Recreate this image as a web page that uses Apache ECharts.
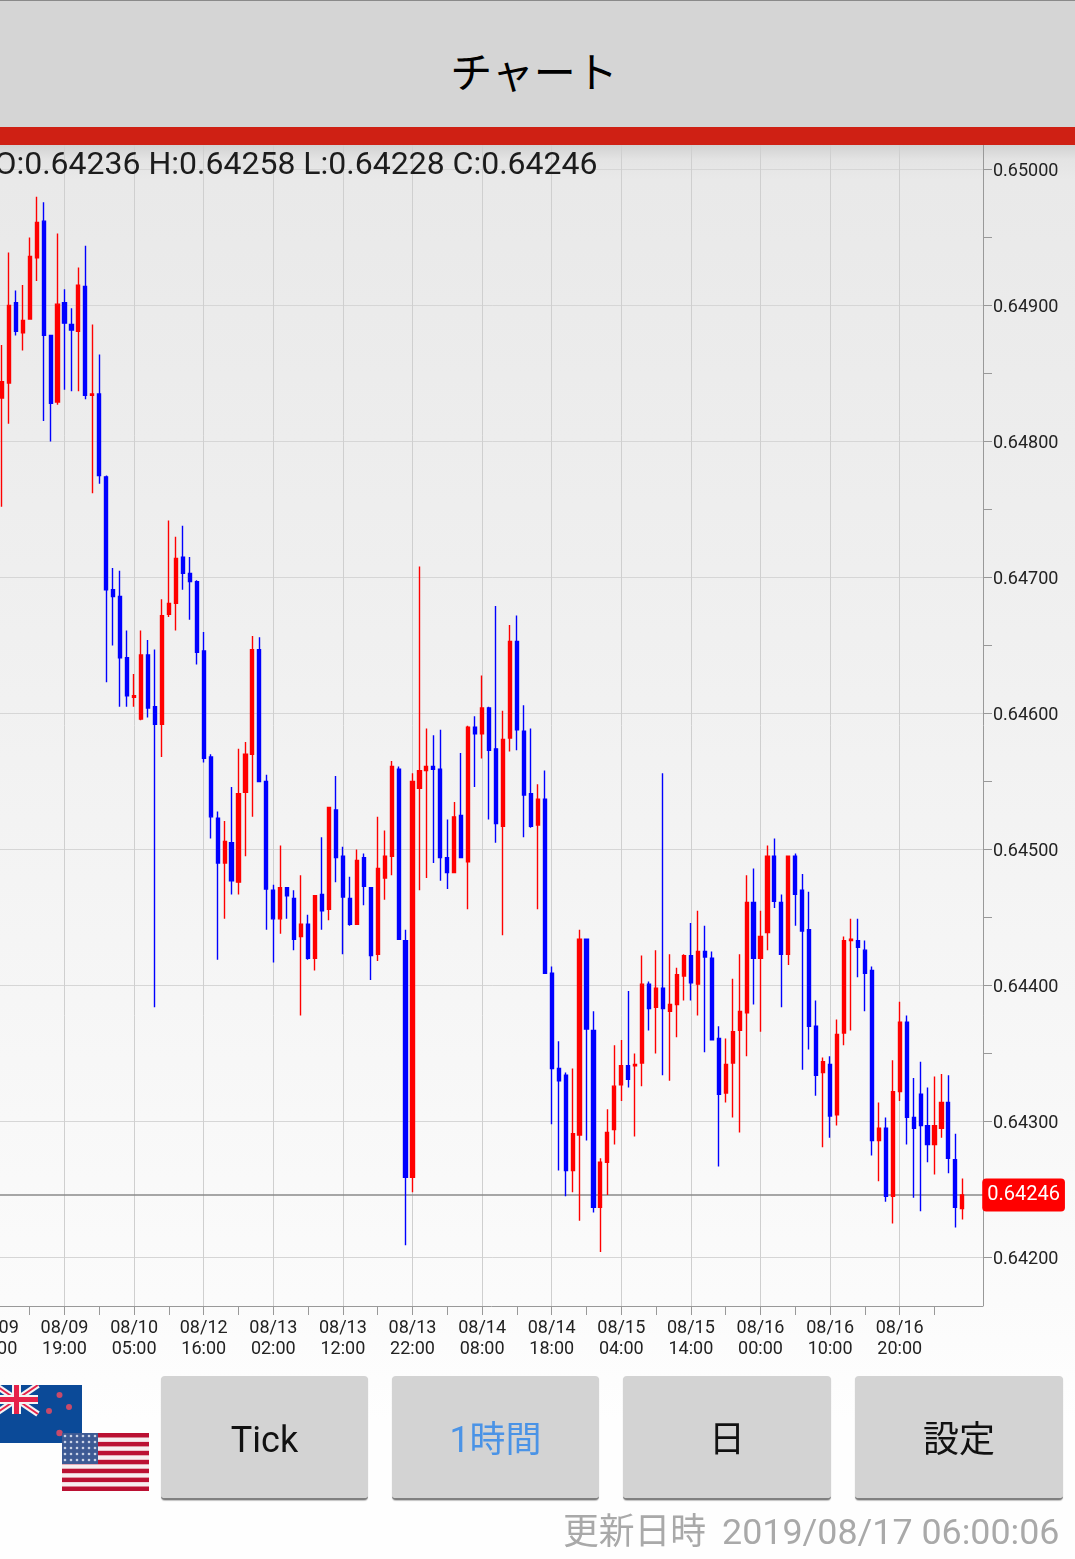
<!DOCTYPE html>
<html lang="ja">
<head>
<meta charset="utf-8">
<title>チャート</title>
<script src="https://cdn.jsdelivr.net/npm/echarts@6/dist/echarts.min.js"></script>
<style>
html, body { margin: 0; padding: 0; }
body {
  width: 1075px; height: 1559px; overflow: hidden; position: relative;
  font-family: Roboto, "Noto Sans CJK JP", sans-serif;
  background: linear-gradient(to bottom, #d2d2d2 0, #d2d2d2 145px, #e4e4e4 160px, #e9e9e9 180px, #f1f1f1 700px, #fbfbfb 1300px, #fefefe 1420px, #fefefe 100%);
}
#chart { position: absolute; left: 0; top: 0; width: 1075px; height: 1559px; }
.header {
  position: absolute; left: 0; top: 0; width: 1075px; height: 127px;
  background: #d5d5d5; border-top: 1px solid #8a8a8a; box-sizing: border-box;
  text-align: center; line-height: 146px; font-size: 42px; color: #000;
  padding-right: 7px;
}
.redbar { position: absolute; left: 0; top: 127px; width: 1075px; height: 18px; background: #cf2014; }
.btn {
  position: absolute; top: 1376px; height: 124px; box-sizing: border-box;
  background: #d3d3d3; border-radius: 4px; border-bottom: 2px solid #808080; box-shadow: 0 1px 1px #c4c4c4;
  text-align: center; line-height: 129px; font-size: 36px; color: #111;
}
.updated { position: absolute; right: 15.5px; top: 1510px; font-size: 35.8px; line-height: 44px; color: #a9a9a9; white-space: nowrap; }
.updated span { margin-left: 16px; }
svg.flag { position: absolute; }
</style>
</head>
<body>
<div id="chart"></div>
<div class="header">チャート</div>
<div class="redbar"></div>

<svg class="flag" style="left:-5px;top:1385px" width="87" height="58" viewBox="0 0 87 58">
  <rect width="87" height="58" fill="#0b4a98"/>
  <g stroke="#f4f4f4" stroke-width="6"><line x1="0" y1="0" x2="43" y2="29"/><line x1="43" y1="0" x2="0" y2="29"/></g>
  <g stroke="#e6224a" stroke-width="2"><line x1="0" y1="0" x2="43" y2="29"/><line x1="43" y1="0" x2="0" y2="29"/></g>
  <g stroke="#f4f4f4" stroke-width="9"><line x1="21.5" y1="0" x2="21.5" y2="29"/><line x1="0" y1="14.5" x2="43" y2="14.5"/></g>
  <g stroke="#e6224a" stroke-width="5"><line x1="21.5" y1="0" x2="21.5" y2="29"/><line x1="0" y1="14.5" x2="43" y2="14.5"/></g>
  <g fill="#c84a6a">
    <circle cx="64.5" cy="10" r="3"/><circle cx="74" cy="22" r="3"/><circle cx="54" cy="26" r="3"/><circle cx="64.5" cy="48" r="3.2"/>
  </g>
</svg>
<svg class="flag" style="left:62px;top:1433px" width="87" height="58" viewBox="0 0 87 58">
  <rect width="87" height="58" fill="#f7eef0"/>
  <g fill="#bb1133">
    <rect y="0" width="87" height="4.5"/><rect y="8.9" width="87" height="4.5"/><rect y="17.8" width="87" height="4.5"/>
    <rect y="26.8" width="87" height="4.5"/><rect y="35.7" width="87" height="4.5"/><rect y="44.6" width="87" height="4.5"/><rect y="53.5" width="87" height="4.5"/>
  </g>
  <rect width="36" height="31" fill="#3d5a94"/>
  <rect width="36" height="31" fill="url(#stars)"/>
  <defs><pattern id="stars" width="6" height="6" patternUnits="userSpaceOnUse"><circle cx="3" cy="3" r="1.3" fill="#c9d2e6"/></pattern></defs>
</svg>

<div class="btn" style="left:161px;width:207px">Tick</div>
<div class="btn" style="left:392px;width:207px;color:#4a93e6">1時間</div>
<div class="btn" style="left:623px;width:208px">日</div>
<div class="btn" style="left:855px;width:208px">設定</div>
<div class="updated">更新日時<span>2019/08/17 06:00:06</span></div>

<script>
// every tenth bar gets a label, the first one sits off the left edge
const tickLabels = [
  '08/09\n09:00', '08/09\n19:00', '08/10\n05:00', '08/12\n16:00', '08/13\n02:00',
  '08/13\n12:00', '08/13\n22:00', '08/14\n08:00', '08/14\n18:00', '08/15\n04:00',
  '08/15\n14:00', '08/16\n00:00', '08/16\n10:00', '08/16\n20:00'
]
const yTicks = [0.642, 0.643, 0.644, 0.645, 0.646, 0.647, 0.648, 0.649, 0.65]
const yStubs = [0.642, 0.6425, 0.643, 0.6435, 0.644, 0.6445, 0.645, 0.6455, 0.646, 0.6465, 0.647, 0.6475, 0.648, 0.6485, 0.649, 0.6495, 0.65]
const lastPrice = 0.64246
const ohlcText = 'O:0.64236 H:0.64258 L:0.64228 C:0.64246'

// hourly bars in 1/100000 of the price
const opens = [
  64832, 64843, 64902, 64880, 64890, 64935, 64962, 64878, 64829,
  64902, 64886, 64881, 64914, 64834, 64835, 64774, 64691, 64686, 64641,
  64612, 64596, 64643, 64605, 64592, 64673, 64681, 64715, 64703, 64697,
  64646, 64568, 64523, 64490, 64505, 64476, 64542, 64570, 64647, 64550,
  64470, 64449, 64472, 64464, 64436, 64445, 64420, 64467, 64456, 64529,
  64495, 64464, 64445, 64494, 64472, 64423, 64479, 64495, 64559, 64433,
  64259, 64545, 64558, 64561, 64559, 64494, 64483, 64525, 64491, 64590,
  64585, 64604, 64574, 64517, 64582, 64653, 64587, 64541, 64518, 64537,
  64409, 64339, 64334, 64264, 64290, 64434, 64367, 64237, 64270, 64294,
  64327, 64341, 64341, 64343, 64401, 64384, 64398, 64381, 64386, 64407,
  64422, 64401, 64425, 64420, 64361, 64321, 64343, 64367, 64380, 64461,
  64420, 64439, 64495, 64461, 64423, 64495, 64470, 64441, 64370, 64336,
  64342, 64305, 64365, 64433, 64433, 64426, 64411, 64286, 64295, 64245,
  64322, 64373, 64303, 64320, 64297, 64283, 64295, 64314, 64272, 64236
]
const closes = [
  64844, 64900, 64881, 64889, 64936, 64961, 64878, 64828, 64901,
  64887, 64882, 64915, 64834, 64835, 64775, 64691, 64686, 64641, 64613,
  64613, 64643, 64604, 64592, 64672, 64681, 64714, 64703, 64697, 64645,
  64567, 64524, 64490, 64506, 64477, 64541, 64570, 64647, 64550, 64471,
  64449, 64472, 64466, 64434, 64445, 64420, 64466, 64455, 64531, 64494,
  64465, 64445, 64492, 64473, 64422, 64486, 64495, 64561, 64434, 64259,
  64550, 64558, 64561, 64559, 64494, 64483, 64524, 64494, 64590, 64585,
  64604, 64573, 64519, 64581, 64653, 64588, 64540, 64517, 64537, 64409,
  64339, 64330, 64264, 64291, 64434, 64368, 64237, 64270, 64292, 64326,
  64341, 64331, 64342, 64401, 64383, 64398, 64383, 64386, 64408, 64422,
  64402, 64425, 64421, 64360, 64320, 64342, 64366, 64381, 64461, 64420,
  64436, 64495, 64462, 64423, 64495, 64467, 64440, 64370, 64334, 64344,
  64304, 64364, 64433, 64434, 64428, 64409, 64286, 64295, 64245, 64322,
  64373, 64303, 64295, 64297, 64283, 64297, 64314, 64273, 64237, 64246
]
const lows = [
  64752, 64813, 64878, 64867, 64890, 64918, 64815, 64800, 64827,
  64838, 64837, 64837, 64831, 64762, 64769, 64623, 64650, 64605, 64605,
  64605, 64595, 64597, 64384, 64568, 64671, 64661, 64691, 64669, 64636,
  64564, 64508, 64419, 64449, 64467, 64467, 64495, 64524, 64550, 64441,
  64417, 64438, 64449, 64426, 64378, 64419, 64411, 64441, 64448, 64476,
  64423, 64444, 64445, 64459, 64404, 64418, 64463, 64481, 64434, 64209,
  64248, 64470, 64479, 64490, 64477, 64471, 64483, 64494, 64456, 64546,
  64567, 64522, 64505, 64437, 64572, 64573, 64509, 64516, 64456, 64409,
  64298, 64264, 64245, 64248, 64227, 64286, 64233, 64204, 64246, 64283,
  64315, 64325, 64289, 64326, 64367, 64350, 64334, 64330, 64362, 64389,
  64389, 64378, 64351, 64360, 64267, 64314, 64303, 64292, 64348, 64386,
  64366, 64426, 64457, 64384, 64415, 64444, 64338, 64353, 64319, 64281,
  64288, 64297, 64356, 64367, 64406, 64381, 64275, 64256, 64241, 64225,
  64315, 64283, 64244, 64234, 64270, 64261, 64288, 64262, 64222, 64228
]
const highs = [
  64871, 64939, 64911, 64915, 64950, 64980, 64976, 64878, 64953,
  64912, 64898, 64928, 64944, 64886, 64864, 64775, 64707, 64705, 64661,
  64629, 64661, 64654, 64647, 64684, 64742, 64730, 64738, 64715, 64698,
  64660, 64570, 64528, 64521, 64546, 64574, 64579, 64657, 64656, 64555,
  64474, 64503, 64472, 64470, 64481, 64452, 64466, 64509, 64531, 64554,
  64502, 64480, 64500, 64497, 64472, 64524, 64514, 64565, 64561, 64441,
  64556, 64708, 64589, 64584, 64588, 64522, 64535, 64571, 64591, 64598,
  64628, 64605, 64679, 64602, 64665, 64672, 64606, 64589, 64548, 64558,
  64414, 64359, 64336, 64339, 64441, 64434, 64381, 64273, 64309, 64356,
  64360, 64396, 64350, 64422, 64403, 64426, 64556, 64423, 64413, 64423,
  64446, 64455, 64444, 64425, 64370, 64361, 64405, 64423, 64481, 64486,
  64455, 64503, 64508, 64467, 64495, 64497, 64482, 64469, 64389, 64347,
  64348, 64375, 64436, 64449, 64449, 64433, 64414, 64314, 64303, 64345,
  64388, 64378, 64332, 64344, 64325, 64333, 64335, 64334, 64291, 64258
]

const firstBar = 1 // slot 0 only carries the clipped label
const slotCount = 143
const lastTickSlot = 135
const yMin = 0.6416434
const yMax = 0.6501801

const categories = []
for (let i = 0; i < slotCount; i++) {
  categories.push(i % 10 === 0 && tickLabels[i / 10] ? tickLabels[i / 10] : '')
}
const candles = opens.map((o, i) => [
  i + firstBar, o / 100000, closes[i] / 100000, lows[i] / 100000, highs[i] / 100000
])

const labelEvery = (i) => i % 10 === 0 && i < tickLabels.length * 10
const tickEvery = (i) => i % 5 === 0 && i <= lastTickSlot

const chart = echarts.init(document.getElementById('chart'))
chart.setOption({
  animation: false,
  backgroundColor: 'transparent',
  textStyle: { fontFamily: 'Roboto' },
  title: {
    text: ohlcText,
    right: 477.5,
    top: 150,
    padding: 0,
    textStyle: { fontFamily: 'Roboto', fontSize: 32, fontWeight: 'normal', color: '#1c1c1c' }
  },
  grid: { left: -8.58, top: 145, width: 995.28, height: 1161, outerBoundsMode: 'none' },
  xAxis: {
    type: 'category',
    data: categories,
    boundaryGap: true,
    axisLine: { show: false },
    axisTick: { show: true, alignWithLabel: true, interval: tickEvery, length: 9, lineStyle: { color: '#999' } },
    axisLabel: {
      show: true, interval: labelEvery, hideOverlap: false, margin: 12,
      fontFamily: 'Roboto', fontSize: 18, lineHeight: 21, color: '#222'
    },
    splitLine: { show: true, alignWithLabel: true, interval: labelEvery, lineStyle: { color: '#cfcfcf', width: 1 } }
  },
  yAxis: [
    {
      // price scale with the short stubs and labels
      type: 'value',
      position: 'right',
      offset: -3.7,
      min: yMin,
      max: yMax,
      axisLine: { show: true, lineStyle: { color: '#999' } },
      axisTick: { show: true, customValues: yStubs, length: 9, lineStyle: { color: '#999' } },
      axisLabel: {
        show: true, customValues: yTicks, margin: 10,
        formatter: (v) => '{p|' + v.toFixed(5) + '}',
        rich: { p: { fontFamily: 'Roboto', fontSize: 18, color: '#222', padding: [4, 0, 0, 0] } }
      },
      splitLine: { show: false }
    },
    {
      // same scale, only for the full grid lines
      type: 'value',
      position: 'right',
      min: yMin,
      max: yMax,
      axisLine: { show: false },
      axisTick: { show: false, customValues: yTicks },
      axisLabel: { show: false },
      splitLine: { show: true, lineStyle: { color: '#d6d6d6', width: 1 } }
    }
  ],
  graphic: [
    // bottom axis line stops at the price axis
    { type: 'line', shape: { x1: 0, y1: 1306.5, x2: 983, y2: 1306.5 }, style: { stroke: '#999', lineWidth: 1 }, silent: true }
  ],
  series: [
    {
      type: 'candlestick',
      data: candles,
      encode: { x: 0, y: [1, 2, 3, 4] },
      barWidth: 3.6,
      z: 3,
      itemStyle: {
        color: '#ff0000', color0: '#0000ff',
        borderColor: '#ff0000', borderColor0: '#0000ff', borderWidth: 1.4
      }
    },
    {
      // flat line at the last price, the tag hangs off its end
      type: 'line',
      data: categories.map(() => lastPrice),
      showSymbol: false,
      silent: true,
      z: 2,
      lineStyle: { color: '#8a8a8a', width: 1.5 },
      endLabel: {
        show: true,
        distance: -1,
        formatter: lastPrice.toFixed(5),
        fontFamily: 'Roboto', fontSize: 20,
        color: '#fff',
        backgroundColor: '#ff0000',
        borderRadius: 4,
        padding: [8, 5, 5, 5]
      }
    }
  ]
})
</script>
</body>
</html>
